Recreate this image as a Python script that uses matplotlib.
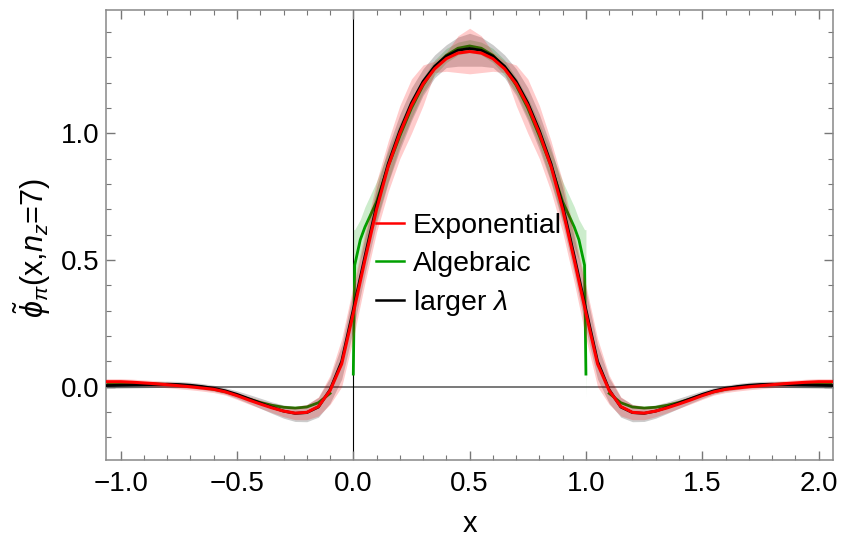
import numpy as np
import matplotlib
matplotlib.use("Agg")
import matplotlib.pyplot as plt
from matplotlib.ticker import MultipleLocator, FuncFormatter

plt.rcParams['font.family'] = ['Liberation Sans', 'DejaVu Sans']
plt.rcParams['mathtext.fontset'] = 'custom'
plt.rcParams['mathtext.rm'] = 'Liberation Sans'
plt.rcParams['mathtext.it'] = 'Liberation Sans:italic'

# x grid (step 0.05, symmetric around 0.5)
x = [-1.10, -1.05, -1.00, -0.95, -0.90, -0.85, -0.80, -0.75, -0.70, -0.65, -0.60,
     -0.55, -0.50, -0.45, -0.40, -0.35, -0.30, -0.25, -0.20, -0.15, -0.10, -0.05,
     0.00, 0.05, 0.10, 0.15, 0.20, 0.25, 0.30, 0.35, 0.40, 0.45, 0.50,
     0.55, 0.60, 0.65, 0.70, 0.75, 0.80, 0.85, 0.90, 0.95, 1.00, 1.05,
     1.10, 1.15, 1.20, 1.25, 1.30, 1.35, 1.40, 1.45, 1.50, 1.55, 1.60,
     1.65, 1.70, 1.75, 1.80, 1.85, 1.90, 1.95, 2.00, 2.05, 2.10]

# Exponential (red)
exp_y = [0.020, 0.020, 0.020, 0.018, 0.015, 0.012, 0.008, 0.004, 0.000, -0.005, -0.010,
         -0.020, -0.035, -0.052, -0.068, -0.083, -0.096, -0.104, -0.101, -0.078, -0.015, 0.090,
         0.290, 0.500, 0.700, 0.870, 1.000, 1.110, 1.195, 1.255, 1.295, 1.317, 1.323,
         1.317, 1.295, 1.255, 1.195, 1.110, 1.000, 0.870, 0.700, 0.500, 0.290, 0.090,
         -0.015, -0.078, -0.101, -0.104, -0.096, -0.083, -0.068, -0.052, -0.035, -0.020, -0.010,
         -0.005, 0.000, 0.004, 0.008, 0.012, 0.015, 0.018, 0.020, 0.020, 0.020]
exp_lo = [0.008, 0.008, 0.008, 0.006, 0.003, 0.000, -0.004, -0.008, -0.012, -0.017, -0.023,
          -0.033, -0.050, -0.068, -0.085, -0.102, -0.118, -0.130, -0.130, -0.115, -0.070, 0.000,
          0.190, 0.410, 0.610, 0.770, 0.900, 1.000, 1.110, 1.240, 1.245, 1.240, 1.235,
          1.240, 1.245, 1.240, 1.110, 1.000, 0.900, 0.770, 0.610, 0.410, 0.190, 0.000,
          -0.070, -0.115, -0.130, -0.130, -0.118, -0.102, -0.085, -0.068, -0.050, -0.033, -0.023,
          -0.017, -0.012, -0.008, -0.004, 0.000, 0.003, 0.006, 0.008, 0.008, 0.008]
exp_hi = [0.032, 0.032, 0.032, 0.030, 0.027, 0.024, 0.020, 0.016, 0.012, 0.007, 0.002,
          -0.008, -0.022, -0.037, -0.052, -0.065, -0.074, -0.077, -0.070, -0.040, 0.045, 0.190,
          0.400, 0.610, 0.810, 0.970, 1.110, 1.215, 1.270, 1.285, 1.320, 1.385, 1.415,
          1.385, 1.320, 1.285, 1.270, 1.215, 1.110, 0.970, 0.810, 0.610, 0.400, 0.190,
          0.045, -0.040, -0.070, -0.077, -0.074, -0.065, -0.052, -0.037, -0.022, -0.008, 0.002,
          0.007, 0.012, 0.016, 0.020, 0.024, 0.027, 0.030, 0.032, 0.032, 0.032]

# larger lambda (black)
lam_y = [0.004, 0.005, 0.006, 0.007, 0.008, 0.009, 0.010, 0.009, 0.006, 0.001, -0.006,
         -0.016, -0.030, -0.047, -0.064, -0.081, -0.096, -0.105, -0.102, -0.080, -0.012, 0.100,
         0.305, 0.515, 0.715, 0.880, 1.010, 1.120, 1.205, 1.265, 1.305, 1.328, 1.335,
         1.328, 1.305, 1.265, 1.205, 1.120, 1.010, 0.880, 0.715, 0.515, 0.305, 0.100,
         -0.012, -0.080, -0.102, -0.105, -0.096, -0.081, -0.064, -0.047, -0.030, -0.016, -0.006,
         0.001, 0.006, 0.009, 0.010, 0.009, 0.008, 0.007, 0.006, 0.005, 0.004]
lam_lo = [-0.008, -0.007, -0.006, -0.005, -0.004, -0.003, -0.002, -0.003, -0.006, -0.011, -0.018,
          -0.029, -0.046, -0.065, -0.085, -0.105, -0.124, -0.137, -0.138, -0.120, -0.065, 0.030,
          0.225, 0.445, 0.645, 0.805, 0.935, 1.050, 1.150, 1.220, 1.260, 1.265, 1.265,
          1.265, 1.260, 1.220, 1.150, 1.050, 0.935, 0.805, 0.645, 0.445, 0.225, 0.030,
          -0.065, -0.120, -0.138, -0.137, -0.124, -0.105, -0.085, -0.065, -0.046, -0.029, -0.018,
          -0.011, -0.006, -0.003, -0.002, -0.003, -0.004, -0.005, -0.006, -0.007, -0.008]
lam_hi = [0.016, 0.017, 0.018, 0.019, 0.020, 0.021, 0.022, 0.021, 0.018, 0.013, 0.006,
          -0.004, -0.016, -0.030, -0.045, -0.060, -0.072, -0.078, -0.070, -0.042, 0.035, 0.165,
          0.380, 0.590, 0.785, 0.945, 1.075, 1.180, 1.255, 1.310, 1.350, 1.380, 1.395,
          1.380, 1.350, 1.310, 1.255, 1.180, 1.075, 0.945, 0.785, 0.590, 0.380, 0.165,
          0.035, -0.042, -0.070, -0.078, -0.072, -0.060, -0.045, -0.030, -0.016, -0.004, 0.006,
          0.013, 0.018, 0.021, 0.022, 0.021, 0.020, 0.019, 0.018, 0.017, 0.016]

# Algebraic (green), outer pieces
alg_xl = [-1.10, -1.05, -1.00, -0.95, -0.90, -0.85, -0.80, -0.75, -0.70, -0.65, -0.60,
          -0.55, -0.50, -0.45, -0.40, -0.35, -0.30, -0.25, -0.20, -0.15, -0.10]
alg_yl = [0.012, 0.012, 0.013, 0.013, 0.012, 0.011, 0.009, 0.006, 0.003, -0.002, -0.010,
          -0.020, -0.033, -0.048, -0.062, -0.073, -0.081, -0.084, -0.080, -0.063, -0.026]
alg_xr = [1.10, 1.15, 1.20, 1.25, 1.30, 1.35, 1.40, 1.45, 1.50, 1.55, 1.60,
          1.65, 1.70, 1.75, 1.80, 1.85, 1.90, 1.95, 2.00, 2.05, 2.10]
alg_yr = [-0.026, -0.063, -0.080, -0.084, -0.081, -0.073, -0.062, -0.048, -0.033, -0.020, -0.010,
          -0.002, 0.003, 0.006, 0.009, 0.011, 0.012, 0.013, 0.013, 0.012, 0.012]

# Algebraic (green), physical region
alg_xm = [0.000, 0.006, 0.03, 0.05, 0.10, 0.15, 0.20, 0.25, 0.30, 0.35, 0.40, 0.45, 0.50,
          0.55, 0.60, 0.65, 0.70, 0.75, 0.80, 0.85, 0.90, 0.95, 0.97, 0.994, 1.000]
alg_ym = [0.05, 0.48, 0.58, 0.63, 0.73, 0.87, 0.99, 1.10, 1.19, 1.26, 1.308, 1.336, 1.345,
          1.336, 1.308, 1.26, 1.19, 1.10, 0.99, 0.87, 0.73, 0.63, 0.58, 0.48, 0.05]
alg_lo = [-0.04, 0.40, 0.50, 0.55, 0.66, 0.81, 0.95, 1.06, 1.16, 1.23, 1.28, 1.31, 1.32,
          1.31, 1.28, 1.23, 1.16, 1.06, 0.95, 0.81, 0.66, 0.55, 0.50, 0.40, -0.04]
alg_hi = [0.62, 0.62, 0.66, 0.71, 0.81, 0.93, 1.04, 1.14, 1.22, 1.29, 1.335, 1.36, 1.37,
          1.36, 1.335, 1.29, 1.22, 1.14, 1.04, 0.93, 0.81, 0.71, 0.66, 0.62, 0.62]

red = '#ff0000'
green = '#00a000'

fig = plt.figure(figsize=(8.42, 5.36), dpi=100)
ax = fig.add_axes([0.1259, 0.1418, 0.8634, 0.8396])

ax.axhline(0, color='#555555', lw=1.1, zorder=0.5)
ax.axvline(0, color='black', lw=0.8, zorder=0.5)

# green lines first so the bands tint them
ax.plot(alg_xl, alg_yl, color=green, lw=2.0, zorder=1)
ax.plot(alg_xr, alg_yr, color=green, lw=2.0, zorder=1)
ax.plot(alg_xm, alg_ym, color=green, lw=2.0, zorder=1)

ax.fill_between(alg_xm, alg_lo, alg_hi, color=green, alpha=0.2, lw=0, zorder=2)
ax.fill_between(x, lam_lo, lam_hi, color='black', alpha=0.2, lw=0, zorder=2)
ax.fill_between(x, exp_lo, exp_hi, color=red, alpha=0.2, lw=0, zorder=2)

ax.plot(x, lam_y, color='black', lw=2.0, zorder=3)
ax.plot(x, exp_y, color=red, lw=2.2, zorder=4)

# legend handles
ax.plot([], [], color=red, lw=1.8, label='Exponential')
ax.plot([], [], color=green, lw=1.8, label='Algebraic')
ax.plot([], [], color='black', lw=1.8, label=r'larger $\lambda$')
h, l = ax.get_legend_handles_labels()
ax.legend(h[-3:], l[-3:], loc='upper left', bbox_to_anchor=(376 / 842, 1 - 213 / 536),
          bbox_transform=fig.transFigure, frameon=False, fontsize=20.5,
          handlelength=1.0, handletextpad=0.3, labelspacing=0.41,
          borderpad=0, borderaxespad=0)

ax.set_xlim(-1.063, 2.062)
ax.set_ylim(-0.289, 1.487)
fmt = FuncFormatter(lambda v, p: ('%.1f' % v).replace('-', '\u2212'))
ax.xaxis.set_major_locator(MultipleLocator(0.5))
ax.xaxis.set_minor_locator(MultipleLocator(0.1))
ax.yaxis.set_major_locator(MultipleLocator(0.5))
ax.yaxis.set_minor_locator(MultipleLocator(0.1))
ax.xaxis.set_major_formatter(fmt)
ax.yaxis.set_major_formatter(fmt)
ax.tick_params(which='both', direction='in', top=True, right=True, color='#777777',
               labelsize=20, labelcolor='black')
ax.tick_params(axis='x', which='both', pad=8)
ax.tick_params(axis='y', which='both', pad=5)
ax.tick_params(which='major', length=6.5, width=1)
ax.tick_params(which='minor', length=3.6, width=0.8)
for s in ax.spines.values():
    s.set_color('#888888')
    s.set_linewidth(1.1)

ax.set_xlabel('x', fontsize=21, labelpad=9)
ax.set_ylabel(r'$\tilde{\phi}_{\pi}$(x,$n_z$=7)', fontsize=22)
ax.yaxis.set_label_coords(-0.073, 0.47)

fig.savefig('out.png', dpi=100)
